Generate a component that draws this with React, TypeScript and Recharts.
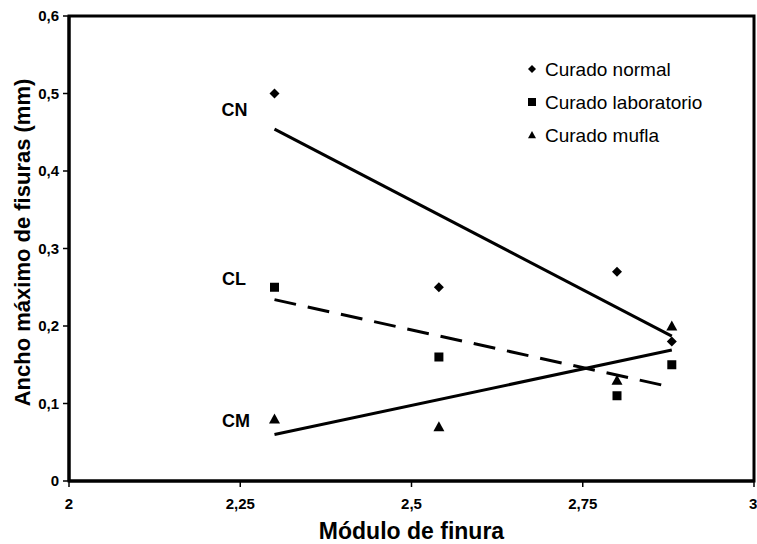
import React from 'react';
import { ComposedChart, Scatter, XAxis, YAxis, Legend, ReferenceArea, LabelList } from 'recharts';

const xValues = [2.3, 2.54, 2.8, 2.88];
const curadoNormal = [0.5, 0.25, 0.27, 0.18];
const curadoLaboratorio = [0.25, 0.16, 0.11, 0.15];
const curadoMufla = [0.08, 0.07, 0.13, 0.2];

const trendX = [2.3, 2.88];
const trendCN = [0.454, 0.187];
const trendCL = [0.234, 0.121];
const trendCM = [0.06, 0.169];

const xTicks = [2, 2.25, 2.5, 2.75, 3];
const yTicks = [0, 0.1, 0.2, 0.3, 0.4, 0.5, 0.6];

const toPts = (xs: number[], ys: number[]) => xs.map((x, i) => ({ x, y: ys[i] }));

const dataCN = toPts(xValues, curadoNormal);
const dataCL = toPts(xValues, curadoLaboratorio);
const dataCM = toPts(xValues, curadoMufla);
const lineCN = toPts(trendX, trendCN);
const lineCL = toPts(trendX, trendCL);
const lineCM = toPts(trendX, trendCM);

const FONT = '"Liberation Sans", Arial, sans-serif';
const fmt = (v: number) => String(v).replace('.', ',');

const Diamond = ({ cx, cy, r = 5 }: any) => (
  <polygon points={`${cx},${cy - r} ${cx + r},${cy} ${cx},${cy + r} ${cx - r},${cy}`} fill="#000" />
);
const Square = ({ cx, cy, r = 4.5 }: any) => (
  <rect x={cx - r} y={cy - r} width={2 * r} height={2 * r} fill="#000" />
);
const Triangle = ({ cx, cy, r = 5.5 }: any) => (
  <polygon points={`${cx},${cy - r} ${cx + r},${cy + r * 0.8} ${cx - r},${cy + r * 0.8}`} fill="#000" />
);
const NoShape = () => <g />;

const legendItems = [
  { name: 'Curado normal', Icon: Diamond },
  { name: 'Curado laboratorio', Icon: Square },
  { name: 'Curado mufla', Icon: Triangle },
];

const LegendContent = () => (
  <svg width={220} height={100} style={{ overflow: 'visible', display: 'block' }}>
    {legendItems.map((it, i) => (
      <g key={it.name}>
        <it.Icon cx={7} cy={11 + i * 33} r={4} />
        <text x={20} y={11 + i * 33} dominantBaseline="central" fontFamily={FONT} fontSize={19} fill="#000">
          {it.name}
        </text>
      </g>
    ))}
  </svg>
);

const makeLabel = (text: string, dx: number, dy: number) => (props: any) => {
  const { x, y, index } = props;
  if (index !== 0) return null;
  return (
    <text x={x + dx} y={y + dy} textAnchor="middle" dominantBaseline="central" fontFamily={FONT} fontWeight="bold" fontSize={18} fill="#000">
      {text}
    </text>
  );
};

const YTitle = (props: any) => {
  const vb = props.viewBox || {};
  const cx = 22;
  const cy = (vb.y || 0) + (vb.height || 0) / 2 - 6;
  return (
    <text x={cx} y={cy} transform={`rotate(-90, ${cx}, ${cy})`} textAnchor="middle" dominantBaseline="central" fontFamily={FONT} fontWeight="bold" fontSize={22} fill="#000">
      Ancho máximo de fisuras (mm)
    </text>
  );
};

const tickStyle = { fontFamily: FONT, fontWeight: 'bold' as const, fontSize: 15, fill: '#000' };

export default function App() {
  return (
    <div style={{ position: 'absolute', left: 0, top: 0, background: '#fff' }}>
      <ComposedChart width={757} height={544} margin={{ top: 16, right: 3, bottom: 0, left: 0 }}>
        <XAxis
          type="number"
          dataKey="x"
          domain={[2, 3]}
          ticks={xTicks}
          tickFormatter={fmt}
          allowDataOverflow
          axisLine={{ stroke: '#000', strokeWidth: 3 }}
          tickLine={{ stroke: '#000', strokeWidth: 1.5 }}
          tickSize={6}
          tickMargin={11}
          tick={tickStyle}
          height={63}
          label={{ value: 'Módulo de finura', position: 'insideBottom', offset: 5, style: { fontFamily: FONT, fontWeight: 'bold', fontSize: 23, fill: '#000' } }}
        />
        <YAxis
          type="number"
          dataKey="y"
          domain={[0, 0.6]}
          ticks={yTicks}
          tickFormatter={fmt}
          allowDataOverflow
          axisLine={{ stroke: '#000', strokeWidth: 3 }}
          tickLine={{ stroke: '#000', strokeWidth: 1.5 }}
          tickSize={6}
          tickMargin={4}
          tick={tickStyle}
          width={69}
          label={<YTitle />}
        />
        <ReferenceArea x1={2} x2={3} y1={0} y2={0.6} fill="none" stroke="#000" strokeWidth={3} ifOverflow="visible" />
        <Legend
          verticalAlign="middle"
          align="center"
          layout="vertical"
          content={<LegendContent />}
          wrapperStyle={{ position: 'absolute', left: 525, top: 58, width: 220, height: 100 }}
        />
        <Scatter data={lineCN} line={{ stroke: '#000', strokeWidth: 3 }} shape={<NoShape />} isAnimationActive={false} legendType="none">
          <LabelList dataKey="y" content={makeLabel('CN', -35.5, -14.5)} />
        </Scatter>
        <Scatter data={lineCL} line={{ stroke: '#000', strokeWidth: 3, strokeDasharray: '22 12' }} shape={<NoShape />} isAnimationActive={false} legendType="none">
          <LabelList dataKey="y" content={makeLabel('CL', -36, -16.5)} />
        </Scatter>
        <Scatter data={lineCM} line={{ stroke: '#000', strokeWidth: 3 }} shape={<NoShape />} isAnimationActive={false} legendType="none">
          <LabelList dataKey="y" content={makeLabel('CM', -34, -9)} />
        </Scatter>
        <Scatter name="Curado normal" data={dataCN} shape={<Diamond r={5} />} isAnimationActive={false} />
        <Scatter name="Curado laboratorio" data={dataCL} shape={<Square r={4.5} />} isAnimationActive={false} />
        <Scatter name="Curado mufla" data={dataCM} shape={<Triangle r={5.5} />} isAnimationActive={false} />
      </ComposedChart>
    </div>
  );
}
